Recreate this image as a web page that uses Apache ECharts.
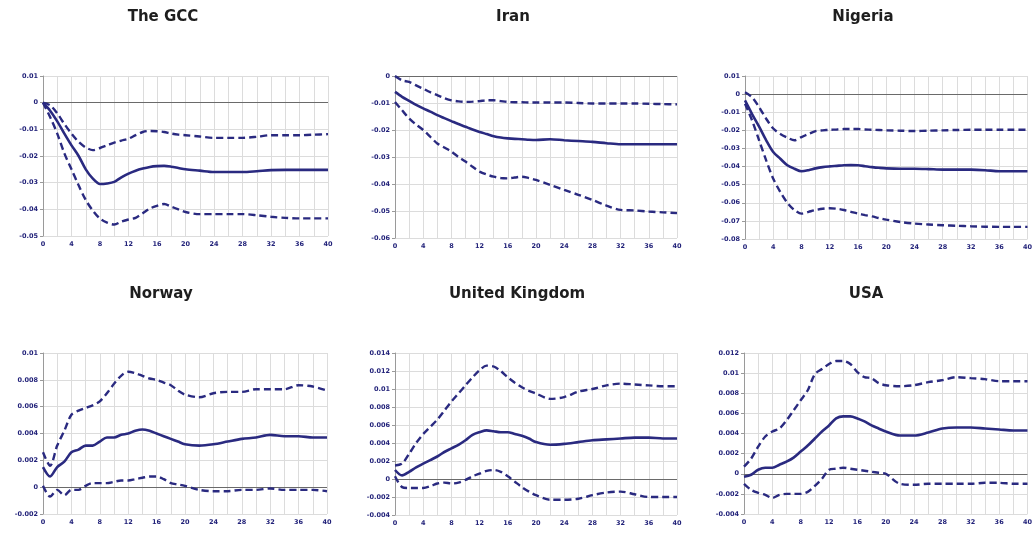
<!DOCTYPE html>
<html>
<head>
<meta charset="utf-8">
<script src="https://cdn.jsdelivr.net/npm/echarts@6/dist/echarts.min.js"></script>
<style>
html,body{margin:0;padding:0;background:#fff;}
#c{width:1035px;height:533px;}
</style>
</head>
<body>
<div id="c"></div>
<script>
// Horizon (periods) at which values were read
var steps = [0,1,2,3,4,5,6,7,8,9,10,11,12,13,14,15,16,17,18,19,20,22,24,26,28,30,32,34,36,38,40];

var panelTitles = ['The GCC','Iran','Nigeria','Norway','United Kingdom','USA'];

// The GCC
var gccMid   = [0,-0.003,-0.007,-0.0116,-0.016,-0.020,-0.025,-0.0285,-0.0305,-0.0303,-0.0297,-0.028,-0.0266,-0.0255,-0.0247,-0.0241,-0.0238,-0.0237,-0.024,-0.0245,-0.025,-0.0255,-0.026,-0.026,-0.026,-0.0257,-0.0253,-0.0252,-0.0252,-0.0252,-0.0252];
var gccUpper = [0,-0.001,-0.004,-0.008,-0.0116,-0.0147,-0.0168,-0.0178,-0.017,-0.016,-0.015,-0.0142,-0.0135,-0.0122,-0.011,-0.0106,-0.0107,-0.011,-0.0116,-0.012,-0.0122,-0.0127,-0.0132,-0.0132,-0.0132,-0.0128,-0.0122,-0.0122,-0.0122,-0.012,-0.0118];
var gccLower = [0,-0.0054,-0.0116,-0.019,-0.025,-0.031,-0.0365,-0.0405,-0.0435,-0.045,-0.0457,-0.0446,-0.0438,-0.0432,-0.0415,-0.0397,-0.0387,-0.038,-0.039,-0.040,-0.041,-0.0418,-0.0418,-0.0418,-0.0418,-0.0422,-0.0428,-0.0432,-0.0434,-0.0434,-0.0434];

// Iran
var iranMid   = [-0.0059,-0.0077,-0.0092,-0.0107,-0.012,-0.0132,-0.0145,-0.0156,-0.0167,-0.0178,-0.0188,-0.0198,-0.0207,-0.0215,-0.0223,-0.0228,-0.0231,-0.0233,-0.0234,-0.0236,-0.0237,-0.0234,-0.0238,-0.0241,-0.0244,-0.0249,-0.0253,-0.0253,-0.0253,-0.0253,-0.0253];
var iranUpper = [0,-0.0016,-0.0022,-0.0035,-0.0047,-0.006,-0.0071,-0.0082,-0.009,-0.0094,-0.0096,-0.0095,-0.0093,-0.009,-0.009,-0.0093,-0.0096,-0.0097,-0.0097,-0.0098,-0.0098,-0.0098,-0.0098,-0.01,-0.0102,-0.0102,-0.0102,-0.0102,-0.0103,-0.0104,-0.0105];
var iranLower = [-0.0096,-0.0127,-0.0157,-0.018,-0.020,-0.0225,-0.025,-0.0265,-0.028,-0.030,-0.0317,-0.0336,-0.0354,-0.0365,-0.0373,-0.0378,-0.0379,-0.0376,-0.0373,-0.0378,-0.0385,-0.0403,-0.0422,-0.044,-0.0459,-0.048,-0.0496,-0.0498,-0.0502,-0.0505,-0.0508];

// Nigeria
var ngaMid   = [-0.0035,-0.011,-0.018,-0.0255,-0.032,-0.0357,-0.0393,-0.0412,-0.0426,-0.042,-0.041,-0.0403,-0.0399,-0.0396,-0.0393,-0.0392,-0.0393,-0.0398,-0.0403,-0.0407,-0.041,-0.0412,-0.0412,-0.0414,-0.0417,-0.0417,-0.0417,-0.042,-0.0426,-0.0426,-0.0426];
var ngaUpper = [0.001,-0.0017,-0.0072,-0.0136,-0.019,-0.022,-0.024,-0.0255,-0.0237,-0.022,-0.0204,-0.020,-0.0197,-0.0195,-0.0193,-0.0193,-0.0193,-0.0195,-0.0197,-0.0198,-0.020,-0.0202,-0.0204,-0.0202,-0.020,-0.0198,-0.0197,-0.0197,-0.0197,-0.0197,-0.0197];
var ngaLower = [-0.0053,-0.0145,-0.0255,-0.0366,-0.0467,-0.054,-0.060,-0.064,-0.066,-0.065,-0.064,-0.0633,-0.063,-0.0633,-0.064,-0.065,-0.066,-0.0668,-0.0675,-0.0685,-0.0693,-0.0706,-0.0715,-0.072,-0.0724,-0.0727,-0.073,-0.0732,-0.0733,-0.0733,-0.0733];

// Norway
var norMid   = [0.0015,0.0008,0.0015,0.0019,0.0026,0.0028,0.0031,0.0031,0.0034,0.0037,0.0037,0.0039,0.004,0.0042,0.0043,0.0042,0.004,0.0038,0.0036,0.0034,0.0032,0.0031,0.0032,0.0034,0.0036,0.0037,0.0039,0.0038,0.0038,0.0037,0.0037];
var norUpper = [0.0026,0.0016,0.0031,0.0042,0.0054,0.0057,0.0059,0.0061,0.0064,0.007,0.0077,0.0083,0.0086,0.0085,0.0083,0.0081,0.008,0.0078,0.0076,0.0072,0.0069,0.0067,0.007,0.0071,0.0071,0.0073,0.0073,0.0073,0.0076,0.0075,0.0072];
var norLower = [0.0001,-0.0007,-0.0002,-0.0006,-0.0002,-0.0002,0.0001,0.0003,0.0003,0.0003,0.0004,0.0005,0.0005,0.0006,0.0007,0.0008,0.0008,0.0006,0.0003,0.0002,0.0001,-0.0002,-0.0003,-0.0003,-0.0002,-0.0002,-0.0001,-0.0002,-0.0002,-0.0002,-0.0003];

// United Kingdom
var ukMid   = [0.001,0.0004,0.0008,0.0013,0.0017,0.0021,0.0025,0.003,0.0034,0.0038,0.0043,0.0049,0.0052,0.0054,0.0053,0.0052,0.0052,0.005,0.0048,0.0045,0.0041,0.0038,0.0039,0.0041,0.0043,0.0044,0.0045,0.0046,0.0046,0.0045,0.0045];
var ukUpper = [0.0015,0.0017,0.0028,0.004,0.005,0.0058,0.0066,0.0076,0.0086,0.0095,0.0104,0.0113,0.0121,0.0126,0.0125,0.012,0.0113,0.0107,0.0102,0.0098,0.0095,0.0089,0.0091,0.0097,0.01,0.0104,0.0106,0.0105,0.0104,0.0103,0.0103];
var ukLower = [0.0003,-0.0009,-0.001,-0.001,-0.001,-0.0008,-0.0005,-0.0004,-0.0005,-0.0004,-0.0001,0.0003,0.0006,0.0009,0.001,0.0008,0.0003,-0.0003,-0.0009,-0.0014,-0.0018,-0.0023,-0.0023,-0.0022,-0.0018,-0.0015,-0.0014,-0.0017,-0.002,-0.002,-0.002];

// USA
var usaMid   = [-0.0003,-0.0001,0.0004,0.0006,0.0006,0.0009,0.0012,0.0016,0.0022,0.0028,0.0035,0.0042,0.0048,0.0055,0.0057,0.0057,0.0055,0.0052,0.0048,0.0045,0.0042,0.0038,0.0038,0.0041,0.0045,0.0046,0.0046,0.0045,0.0044,0.0043,0.0043];
var usaUpper = [0.0007,0.0015,0.0027,0.0037,0.0042,0.0045,0.0053,0.0063,0.0073,0.0083,0.0099,0.0104,0.0109,0.0112,0.0112,0.0109,0.0101,0.0096,0.0095,0.009,0.0088,0.0087,0.0088,0.0091,0.0093,0.0096,0.0095,0.0094,0.0092,0.0092,0.0092];
var usaLower = [-0.001,-0.0016,-0.0019,-0.0021,-0.0024,-0.0021,-0.002,-0.002,-0.002,-0.0018,-0.0012,-0.0005,0.0004,0.0005,0.0006,0.0005,0.0004,0.0003,0.0002,0.0001,0,-0.001,-0.0011,-0.001,-0.001,-0.001,-0.001,-0.0009,-0.0009,-0.001,-0.001];

// y-axis ranges (min, max, interval)
var yMins = [-0.05,-0.06,-0.08,-0.002,-0.004,-0.004];
var yMaxs = [0.01,0,0.01,0.01,0.014,0.012];
var yIntervals = [0.01,0.01,0.01,0.002,0.002,0.002];

var panelSeries = [
  [gccMid,gccUpper,gccLower],
  [iranMid,iranUpper,iranLower],
  [ngaMid,ngaUpper,ngaLower],
  [norMid,norUpper,norLower],
  [ukMid,ukUpper,ukLower],
  [usaMid,usaUpper,usaLower]
];

// layout (pixels)
var grids = [
  {left:43, top:76, width:285, height:160},
  {left:395, top:76, width:282, height:162},
  {left:745, top:76, width:284, height:163},
  {left:43, top:353, width:284, height:161},
  {left:395, top:353, width:282, height:162},
  {left:744, top:353, width:287, height:161}
];
var titlePos = [[163,17],[513,17],[863,17],[161,294],[517,294],[866,294]];

var lineColor = '#2a2a80';
var labelColor = '#23237a';

function pairs(vals){ return steps.map(function(s,i){ return [s, vals[i]]; }); }

var xAxes = [], yAxes = [], series = [], graphics = [];
for (var p = 0; p < 6; p++) {
  xAxes.push({
    type:'value', gridIndex:p, min:0, max:40, interval:4,
    axisLine:{show:false}, axisTick:{show:false},
    axisLabel:{color:labelColor, fontSize:6.5, fontWeight:'bold', fontFamily:'DejaVu Sans', margin:5},
    splitLine:{show:true, lineStyle:{color:'#dcdcdc', width:1}},
    minorTick:{show:false, splitNumber:2},
    minorSplitLine:{show:true, lineStyle:{color:'#dcdcdc', width:1}}
  });
  yAxes.push({
    type:'value', gridIndex:p, min:yMins[p], max:yMaxs[p], interval:yIntervals[p],
    axisLine:{show:true, onZero:false, lineStyle:{color:'#9a9a9a', width:1}},
    axisTick:{show:true, length:3, lineStyle:{color:'#9a9a9a'}},
    axisLabel:{color:labelColor, fontSize:6.5, fontWeight:'bold', fontFamily:'DejaVu Sans', margin:5},
    splitLine:{show:true, lineStyle:{color:'#dcdcdc', width:1}}
  });
  var s = panelSeries[p];
  series.push({
    type:'line', xAxisIndex:p, yAxisIndex:p, data:pairs(s[0]), smooth:0.3,
    showSymbol:false, symbol:'none', lineStyle:{color:lineColor, width:2.6, type:'solid'}, z:3,
    markLine:{silent:true, symbol:'none', label:{show:false}, animation:false,
      lineStyle:{color:'#6a6a6a', width:1.2, type:'solid'}, data:[{yAxis:0}], z:1}
  });
  for (var k = 1; k < 3; k++) {
    series.push({
      type:'line', xAxisIndex:p, yAxisIndex:p, data:pairs(s[k]), smooth:0.3,
      showSymbol:false, symbol:'none', lineStyle:{color:lineColor, width:2.4, type:[7,4]}, z:3
    });
  }
  graphics.push({
    type:'text', x:titlePos[p][0], y:titlePos[p][1],
    style:{text:panelTitles[p], fill:'#1e1e1e', font:'bold 15px "DejaVu Sans"', textAlign:'center', textVerticalAlign:'middle'}
  });
}

var chart = echarts.init(document.getElementById('c'));
chart.setOption({
  animation:false,
  backgroundColor:'#ffffff',
  grid:grids,
  xAxis:xAxes,
  yAxis:yAxes,
  series:series,
  graphic:graphics
});
</script>
</body>
</html>
